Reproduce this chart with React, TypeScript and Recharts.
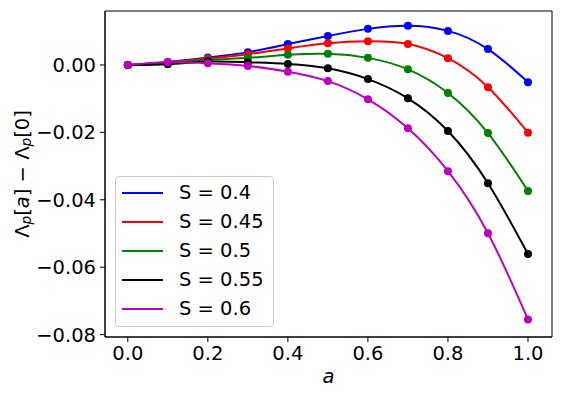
import React from 'react';
import { ComposedChart, Line, XAxis, YAxis, Legend, ReferenceArea } from 'recharts';

const aValues = [0, 0.1, 0.2, 0.3, 0.4, 0.5, 0.6, 0.7, 0.8, 0.9, 1.0];
const s040 = [0, 0.0009, 0.0022, 0.0038, 0.0062, 0.0086, 0.0107, 0.0116, 0.0101, 0.0047, -0.0051];
const s045 = [0, 0.0008, 0.0019, 0.0032, 0.0049, 0.0064, 0.0070, 0.0062, 0.0020, -0.0066, -0.0201];
const s050 = [0, 0.0006, 0.0015, 0.0021, 0.0030, 0.0033, 0.0021, -0.0013, -0.0083, -0.0202, -0.0374];
const s055 = [0, 0.0002, 0.0010, 0.0008, 0.0003, -0.0010, -0.0042, -0.0099, -0.0196, -0.0351, -0.0561];
const s060 = [0, 0.0008, 0.0005, -0.0003, -0.0020, -0.0048, -0.0102, -0.0188, -0.0315, -0.0499, -0.0755];

const seriesNames = ['S = 0.4', 'S = 0.45', 'S = 0.5', 'S = 0.55', 'S = 0.6'];
const seriesKeys = ['s040', 's045', 's050', 's055', 's060'];
const seriesColors = ['#0000ff', '#ff0000', '#008000', '#000000', '#bf00bf'];
const xTicks = [0, 0.2, 0.4, 0.6, 0.8, 1.0];
const yTicks = [0, -0.02, -0.04, -0.06, -0.08];
const xDomain = [-0.057, 1.06];
const yDomain = [-0.0807, 0.016];

const data = aValues.map((a, i) => ({
  a,
  s040: s040[i],
  s045: s045[i],
  s050: s050[i],
  s055: s055[i],
  s060: s060[i],
}));

const FONT = 'DejaVu Sans';
const FS = 19.5;

const fmtY = (v: number) => {
  const s = Math.abs(v).toFixed(2);
  return v < -1e-9 ? '\u2212' + s : s;
};

const YLabel = (props: any) => {
  const vb = props.viewBox || {};
  const cx = 22;
  const cy = (vb.y || 0) + (vb.height || 0) / 2;
  return (
    <text
      x={cx}
      y={cy}
      transform={`rotate(-90, ${cx}, ${cy})`}
      textAnchor="middle"
      dominantBaseline="central"
      fontFamily={FONT}
      fontSize={FS}
      fill="#000"
    >
      <tspan>Λ</tspan>
      <tspan fontSize={13.7} fontStyle="italic" dy={4}>p</tspan>
      <tspan dy={-4}>[</tspan>
      <tspan fontStyle="italic">a</tspan>
      <tspan>] − Λ</tspan>
      <tspan fontSize={13.7} fontStyle="italic" dy={4}>p</tspan>
      <tspan dy={-4}>[0]</tspan>
    </text>
  );
};

const XLabel = (props: any) => {
  const vb = props.viewBox || {};
  const cx = (vb.x || 0) + (vb.width || 0) / 2;
  return (
    <text x={cx} y={383} textAnchor="middle" fontFamily={FONT} fontSize={FS} fontStyle="italic" fill="#000">
      a
    </text>
  );
};

const LegendBox = () => (
  <div
    style={{
      position: 'relative',
      width: 159,
      height: 151,
      boxSizing: 'border-box',
      border: '1px solid #cccccc',
      borderRadius: 4,
      background: 'rgba(255,255,255,0.8)',
      fontFamily: FONT,
      fontSize: FS,
      color: '#000',
    }}
  >
    {seriesNames.map((name, i) => (
      <div key={name} style={{ position: 'absolute', left: 0, top: 16 + i * 29 - 12, height: 24, width: 159 }}>
        <div
          style={{
            position: 'absolute',
            left: 6,
            top: 11,
            width: 41,
            height: 2,
            background: seriesColors[i],
          }}
        />
        <div style={{ position: 'absolute', left: 63, top: 0, lineHeight: '24px', whiteSpace: 'nowrap' }}>{name}</div>
      </div>
    ))}
  </div>
);

export default function App() {
  return (
    <div style={{ position: 'absolute', left: 0, top: 0, width: 562, height: 393, background: '#fff' }}>
      <ComposedChart width={562} height={393} data={data} margin={{ top: 11, right: 10, bottom: 11, left: 10 }}>
        <XAxis
          dataKey="a"
          type="number"
          domain={xDomain}
          ticks={xTicks}
          tickFormatter={(v: number) => v.toFixed(1)}
          allowDataOverflow
          height={45}
          tickSize={5}
          tickMargin={4}
          stroke="#000"
          tick={{ fill: '#000', fontFamily: FONT, fontSize: FS }}
          label={{ content: XLabel }}
        />
        <YAxis
          type="number"
          domain={yDomain}
          ticks={yTicks}
          tickFormatter={fmtY}
          allowDataOverflow
          width={95}
          tickSize={5}
          tickMargin={4}
          stroke="#000"
          tick={{ fill: '#000', fontFamily: FONT, fontSize: FS }}
          label={{ content: YLabel }}
        />
        <ReferenceArea
          x1={xDomain[0]}
          x2={xDomain[1]}
          y1={yDomain[0]}
          y2={yDomain[1]}
          fill="none"
          fillOpacity={0}
          stroke="#000"
          strokeWidth={1}
          ifOverflow="visible"
        />
        {seriesKeys.map((k, i) => (
          <Line
            key={k}
            dataKey={k}
            name={seriesNames[i]}
            type="natural"
            stroke={seriesColors[i]}
            strokeWidth={2}
            dot={{ r: 4, fill: seriesColors[i], stroke: 'none' }}
            activeDot={false}
            isAnimationActive={false}
          />
        ))}
        <Legend
          layout="horizontal"
          verticalAlign="middle"
          align="center"
          content={LegendBox}
          wrapperStyle={{ position: 'absolute', left: 115, top: 176, width: 159, height: 151 }}
        />
      </ComposedChart>
    </div>
  );
}
